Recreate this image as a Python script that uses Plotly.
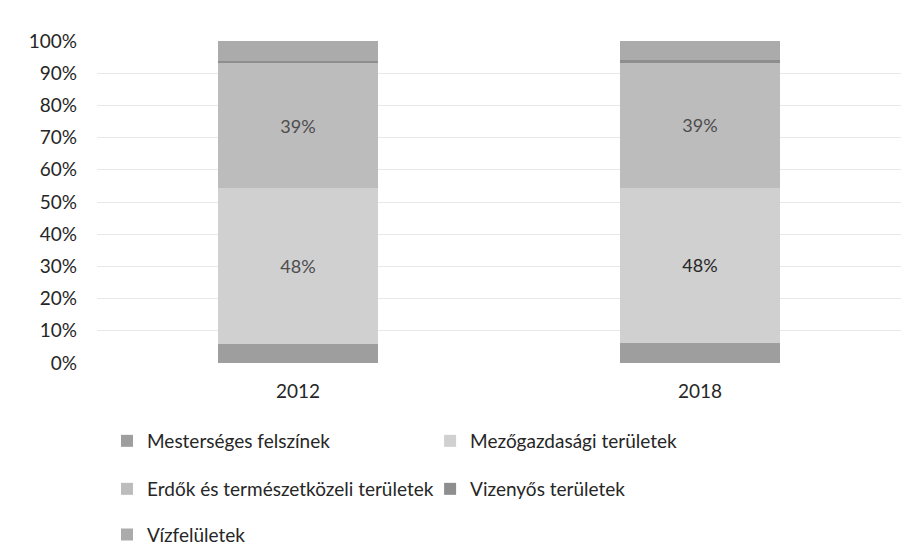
import plotly.graph_objects as go

years = ["2012", "2018"]
series_names = [
    "Mesterséges felszínek",
    "Mezőgazdasági területek",
    "Erdők és természetközeli területek",
    "Vizenyős területek",
    "Vízfelületek",
]
mesterseges = [5.8, 6.2]
mezogazdasagi = [48.4, 48.2]
erdok = [38.9, 38.8]
vizenyos = [0.8, 0.8]
vizfeluletek = [6.1, 6.0]
labeled = [False, True, True, False, False]

colors = ["#9e9e9e", "#d0d0d0", "#bcbcbc", "#8e8e8e", "#ababab"]
label_colors = [None, ["#4d4d4d", "#262626"], ["#4d4d4d", "#4d4d4d"], None, None]
all_values = [mesterseges, mezogazdasagi, erdok, vizenyos, vizfeluletek]

FONT = "Lato, Open Sans, sans-serif"
# legend placement (container coords)
legend_pos = [(0.110, 0.2026), (0.4690, 0.2026), (0.110, 0.1142),
              (0.4690, 0.1142), (0.110, 0.0300)]

fig = go.Figure()
for i, (name, vals) in enumerate(zip(series_names, all_values)):
    kw = {}
    if labeled[i]:
        kw = dict(
            text=[f"{round(v)}%" for v in vals],
            textposition="inside",
            insidetextanchor="middle",
            textangle=0,
            constraintext="none",
            textfont=dict(family=FONT, size=18, color=label_colors[i]),
        )
    else:
        kw = dict(textposition="none")
    fig.add_trace(go.Bar(
        x=years,
        y=[v / 100 for v in vals],
        name=name,
        marker=dict(color=colors[i], line=dict(width=0)),
        legend="legend" if i == 0 else f"legend{i+1}",
        hoverinfo="skip",
        **kw,
    ))

legends = {}
for i, (lx, ly) in enumerate(legend_pos):
    key = "legend" if i == 0 else f"legend{i+1}"
    legends[key] = dict(
        x=lx, y=ly, xref="container", yref="container",
        xanchor="left", yanchor="middle",
        orientation="h", bgcolor="rgba(0,0,0,0)",
        font=dict(family=FONT, size=19, color="#262626"),
        itemclick=False, itemdoubleclick=False,
    )

fig.update_layout(
    width=900, height=543,
    margin=dict(l=89, r=7, t=33, b=188),
    paper_bgcolor="white", plot_bgcolor="white",
    barmode="stack", bargap=0.6,
    showlegend=True,
    font=dict(family=FONT, color="#262626"),
    **legends,
)
fig.update_yaxes(
    range=[0, 1], dtick=0.1, tickformat=".0%",
    showgrid=True, gridcolor="#e8e8e8", gridwidth=1,
    zeroline=False, showline=False,
    tickfont=dict(family=FONT, size=19, color="#262626"),
    ticklabelstandoff=19,
)
fig.update_xaxes(
    showgrid=False, showline=False, zeroline=False,
    tickfont=dict(family=FONT, size=19, color="#262626"),
    ticklabelstandoff=15,
)
fig.write_html("out.html")
